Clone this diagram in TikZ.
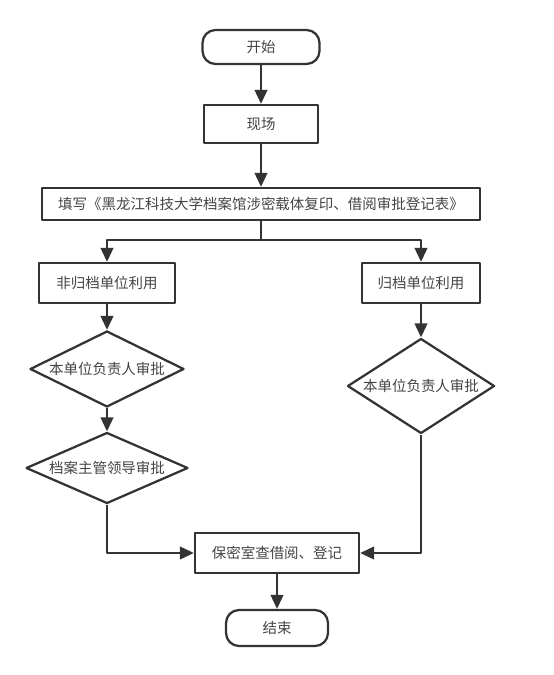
\documentclass[tikz,border=0pt]{standalone}
\usepackage{fontspec}
\setmainfont{Noto Sans CJK SC}
\usetikzlibrary{arrows.meta,shapes.geometric,positioning}
\definecolor{linegray}{HTML}{333333}
\definecolor{txtgray}{HTML}{444444}
\def\px{0.025cm}

\begin{document}
\begin{tikzpicture}[x=\px, y=-\px, line join=round,
  every node/.style={font=\fontsize{10.3}{12}\selectfont, text=txtgray},
  link/.style={draw=linegray, line width=1.6pt},
  flow/.style={link, -{Triangle[length=10pt,width=9pt]}},
  box/.style={draw=linegray, line width=1.6pt, rectangle, inner sep=0pt},
  term/.style={box, rounded corners=13*\px},
  dmd/.style={draw=linegray, line width=1.6pt, diamond, inner sep=0pt}]
\useasboundingbox (0,0) rectangle (553,675);
% top part
\node[term, minimum width=117*\px, minimum height=34*\px] (start) at (261,47) {开始};
\node[box, minimum width=114*\px, minimum height=38*\px] (scene) at (261,124) {现场};
\node[box, minimum width=438*\px, minimum height=32*\px] (form) at (261,204)
  {填写《黑龙江科技大学档案馆涉密载体复印、借阅审批登记表》};
\coordinate (split) at (261,240);
% two branches
\node[box, minimum width=136*\px, minimum height=40*\px] (nonarch) at (107,283) {非归档单位利用};
\node[box, minimum width=118*\px, minimum height=40*\px] (arch) at (421,283) {归档单位利用};
\node[dmd, minimum width=154*\px, minimum height=76*\px, label=center:{本单位负责人审批}] (unitL) at (107,369) {};
\node[dmd, minimum width=162*\px, minimum height=71*\px, label=center:{档案主管领导审批}] (lead) at (107,468) {};
\node[dmd, minimum width=147*\px, minimum height=95*\px, label=center:{本单位负责人审批}] (unitR) at (421,386) {};
% bottom part
\node[box, minimum width=164*\px, minimum height=40*\px] (reg) at (277,553) {保密室查借阅、登记};
\node[term, minimum width=102*\px, minimum height=36*\px] (finish) at (277,628) {结束};

\draw[flow] (start) -- (scene);
\draw[flow] (scene) -- (form);
\draw[link] (form) -- (split);
\draw[flow] (split) -| (nonarch);
\draw[flow] (split) -| (arch);
\draw[flow] (nonarch) -- (unitL);
\draw[flow] (unitL) -- (lead);
\draw[flow] (arch) -- (unitR);
\draw[flow] (lead) |- (reg);
\draw[flow] (unitR) |- (reg);
\draw[flow] (reg) -- (finish);
\end{tikzpicture}
\end{document}
